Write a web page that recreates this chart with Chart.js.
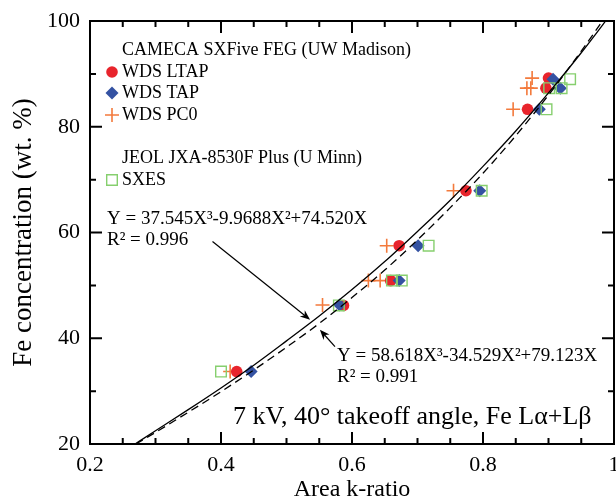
<!DOCTYPE html>
<html>
<head>
<meta charset="utf-8">
<script src="https://cdn.jsdelivr.net/npm/chart.js@4.4.1/dist/chart.umd.min.js"></script>
<style>
  html, body { margin: 0; padding: 0; background: #fff; }
</style>
</head>
<body>
<canvas id="kratioChart" width="616" height="504"></canvas>
<script>
// values
const ltapX = [0.424, 0.587, 0.659, 0.672, 0.774, 0.868, 0.896, 0.900];
const ltapY = [33.7, 46.2, 50.9, 57.5, 67.9, 83.3, 87.3, 89.2];
const tapX = [0.446, 0.581, 0.672, 0.701, 0.795, 0.886, 0.918, 0.907];
const tapY = [33.7, 46.3, 50.9, 57.5, 67.9, 83.3, 87.3, 89.0];
const pc0X = [0.414, 0.555, 0.625, 0.643, 0.653, 0.755, 0.846, 0.867, 0.873, 0.875];
const pc0Y = [33.7, 46.3, 50.9, 50.9, 57.5, 67.9, 83.3, 87.3, 87.3, 89.2];
const sxesX = [0.400, 0.580, 0.661, 0.676, 0.717, 0.798, 0.897, 0.901, 0.920, 0.933];
const sxesY = [33.7, 46.2, 50.9, 50.9, 57.5, 67.9, 83.3, 87.3, 87.3, 89.0];

// the two fit curves
const fitX = [0.27, 0.30, 0.35, 0.40, 0.45, 0.50, 0.55, 0.60, 0.65, 0.70, 0.75, 0.80, 0.85, 0.90, 0.95, 1.00];
const fitSolidY = [20.1, 22.5, 26.5, 30.6, 34.9, 39.5, 44.2, 49.2, 54.5, 60.2, 66.1, 72.5, 79.2, 86.4, 94.0, 102.1];
const fitDashedY = [20.0, 22.2, 26.0, 29.9, 34.0, 38.3, 42.8, 47.7, 52.9, 58.6, 64.7, 71.2, 78.3, 86.0, 94.3, 103.2];

const xTicks = [0.2, 0.4, 0.6, 0.8, 1];
const xMinorTicks = [0.25, 0.3, 0.35, 0.45, 0.5, 0.55, 0.65, 0.7, 0.75, 0.85, 0.9, 0.95];
const yTicks = [20, 40, 60, 80, 100];
const yMinorTicks = [30, 50, 70, 90];

const eqSolid = ['Y = 37.545X\u00B3-9.9688X\u00B2+74.520X', 'R\u00B2 = 0.996'];
const eqDashed = ['Y = 58.618X\u00B3-34.529X\u00B2+79.123X', 'R\u00B2 = 0.991'];
const arrowSolid = [[0.387, 58.3], [0.536, 43.5]];
const arrowDashed = [[0.574, 38.4], [0.551, 41.6]];
const noteText = '7 kV, 40\u00B0 takeoff angle, Fe L\u03B1+L\u03B2';

const FONT = '"Liberation Serif", "Times New Roman", serif';

function toPoints(xs, ys) {
    return xs.map((v, i) => ({ x: v, y: ys[i] }));
}

// box, inward ticks on all four sides
const framePlugin = {
    id: 'frame',
    afterDraw(chart) {
        const { ctx, chartArea: a, scales: { x, y } } = chart;
        ctx.save();
        ctx.strokeStyle = '#000';
        ctx.lineWidth = 2;
        ctx.strokeRect(a.left, a.top, a.right - a.left, a.bottom - a.top);
        ctx.beginPath();
        const tickX = (vals, len) => {
            vals.forEach(v => {
                const px = x.getPixelForValue(v);
                ctx.moveTo(px, a.bottom); ctx.lineTo(px, a.bottom - len);
                ctx.moveTo(px, a.top); ctx.lineTo(px, a.top + len);
            });
        };
        const tickY = (vals, len) => {
            vals.forEach(v => {
                const py = y.getPixelForValue(v);
                ctx.moveTo(a.left, py); ctx.lineTo(a.left + len, py);
                ctx.moveTo(a.right, py); ctx.lineTo(a.right - len, py);
            });
        };
        tickX(xTicks, 12);
        tickX(xMinorTicks, 6);
        tickY(yTicks, 12);
        tickY(yMinorTicks, 6);
        ctx.stroke();
        ctx.restore();
    }
};

function drawArrow(ctx, x0, y0, x1, y1) {
    const ang = Math.atan2(y1 - y0, x1 - x0);
    const c = Math.cos(ang), s = Math.sin(ang);
    ctx.beginPath();
    ctx.moveTo(x0, y0);
    ctx.lineTo(x1 - 6 * c, y1 - 6 * s);
    ctx.stroke();
    ctx.beginPath();
    ctx.moveTo(x1, y1);
    ctx.lineTo(x1 - 10 * c + 4 * s, y1 - 10 * s - 4 * c);
    ctx.lineTo(x1 - 7 * c, y1 - 7 * s);
    ctx.lineTo(x1 - 10 * c - 4 * s, y1 - 10 * s + 4 * c);
    ctx.closePath();
    ctx.fill();
}

// legend with group headers, equations, arrows, note
const textPlugin = {
    id: 'figureText',
    afterDraw(chart) {
        const { ctx, scales: { x, y } } = chart;
        ctx.save();
        ctx.fillStyle = '#000';
        ctx.strokeStyle = '#000';
        ctx.textBaseline = 'alphabetic';
        ctx.textAlign = 'left';
        ctx.font = '18px ' + FONT;

        const rows = [
            { text: 'CAMECA SXFive FEG (UW Madison)', base: 55 },
            { ds: 0, base: 77 },
            { ds: 1, base: 98 },
            { ds: 2, base: 120 },
            { text: 'JEOL JXA-8530F Plus (U Minn)', base: 163 },
            { ds: 3, base: 185 }
        ];
        rows.forEach(r => {
            if (r.ds === undefined) {
                ctx.fillStyle = '#000';
                ctx.fillText(r.text, 122, r.base);
                return;
            }
            const d = chart.data.datasets[r.ds];
            ctx.save();
            ctx.fillStyle = d.pointBackgroundColor;
            ctx.strokeStyle = d.pointBorderColor;
            ctx.lineWidth = d.pointBorderWidth;
            Chart.helpers.drawPoint(ctx, {
                pointStyle: d.pointStyle,
                radius: d.pointRadius,
                rotation: 0,
                borderWidth: d.pointBorderWidth
            }, 112, r.base - 5);
            ctx.restore();
            ctx.fillStyle = '#000';
            ctx.fillText(d.label, 122, r.base);
        });

        ctx.font = '19px ' + FONT;
        ctx.fillText(eqSolid[0], 107, 224);
        ctx.fillText(eqSolid[1], 107, 245);
        ctx.fillText(eqDashed[0], 337, 361);
        ctx.fillText(eqDashed[1], 337, 382);

        ctx.lineWidth = 1.2;
        [arrowSolid, arrowDashed].forEach(ar => {
            drawArrow(ctx,
                x.getPixelForValue(ar[0][0]), y.getPixelForValue(ar[0][1]),
                x.getPixelForValue(ar[1][0]), y.getPixelForValue(ar[1][1]));
        });

        ctx.font = '26px ' + FONT;
        ctx.fillText(noteText, 233, 424);
        ctx.restore();
    }
};

const ctx = document.getElementById('kratioChart').getContext('2d');

new Chart(ctx, {
    type: 'scatter',
    data: {
        datasets: [
            {
                label: 'WDS LTAP',
                data: toPoints(ltapX, ltapY),
                pointStyle: 'circle',
                pointRadius: 5.8,
                pointBackgroundColor: '#e8242c',
                pointBorderColor: '#e8242c',
                pointBorderWidth: 0,
                order: 3
            },
            {
                label: 'WDS TAP',
                data: toPoints(tapX, tapY),
                pointStyle: 'rectRot',
                pointRadius: 6.5,
                pointBackgroundColor: '#3452a2',
                pointBorderColor: '#3452a2',
                pointBorderWidth: 0,
                order: 2
            },
            {
                label: 'WDS PC0',
                data: toPoints(pc0X, pc0Y),
                pointStyle: 'cross',
                pointRadius: 7,
                pointBackgroundColor: 'rgba(0,0,0,0)',
                pointBorderColor: '#f37a3c',
                pointBorderWidth: 1.6,
                order: 4
            },
            {
                label: 'SXES',
                data: toPoints(sxesX, sxesY),
                pointStyle: 'rect',
                pointRadius: 7.5,
                pointBackgroundColor: 'rgba(0,0,0,0)',
                pointBorderColor: '#86cf6e',
                pointBorderWidth: 1.4,
                order: 1
            },
            {
                type: 'line',
                label: 'fit solid',
                data: toPoints(fitX, fitSolidY),
                borderColor: '#000',
                borderWidth: 1.3,
                pointRadius: 0,
                cubicInterpolationMode: 'monotone',
                order: 0
            },
            {
                type: 'line',
                label: 'fit dashed',
                data: toPoints(fitX, fitDashedY),
                borderColor: '#000',
                borderWidth: 1.3,
                borderDash: [8, 5],
                pointRadius: 0,
                cubicInterpolationMode: 'monotone',
                order: 0
            }
        ]
    },
    options: {
        responsive: false,
        animation: false,
        devicePixelRatio: 1,
        layout: { autoPadding: false, padding: { top: 21, right: 2, left: 0, bottom: 0 } },
        plugins: {
            legend: { display: false },
            tooltip: { enabled: false }
        },
        scales: {
            x: {
                type: 'linear',
                min: 0.2,
                max: 1,
                afterBuildTicks: s => { s.ticks = xTicks.map(v => ({ value: v })); },
                afterFit: s => { s.height = 60; s.paddingLeft = 0; s.paddingRight = 0; },
                grid: { display: false, drawTicks: false },
                border: { display: false },
                ticks: {
                    color: '#000',
                    font: { family: FONT, size: 22 },
                    padding: 8,
                    maxRotation: 0,
                    callback: v => String(+v.toFixed(2))
                },
                title: { display: true, text: 'Area k-ratio', color: '#000', font: { family: FONT, size: 24 }, padding: { top: 0, bottom: 0 } }
            },
            y: {
                type: 'linear',
                min: 20,
                max: 100,
                afterBuildTicks: s => { s.ticks = yTicks.map(v => ({ value: v })); },
                afterFit: s => { s.width = 90; s.paddingTop = 0; s.paddingBottom = 0; },
                grid: { display: false, drawTicks: false },
                border: { display: false },
                ticks: { color: '#000', font: { family: FONT, size: 22 }, padding: 10 },
                title: { display: true, text: 'Fe concentration (wt. %)', color: '#000', font: { family: FONT, size: 27 }, padding: { top: 8, bottom: 0 } }
            }
        }
    },
    plugins: [framePlugin, textPlugin]
});
</script>
</body>
</html>
